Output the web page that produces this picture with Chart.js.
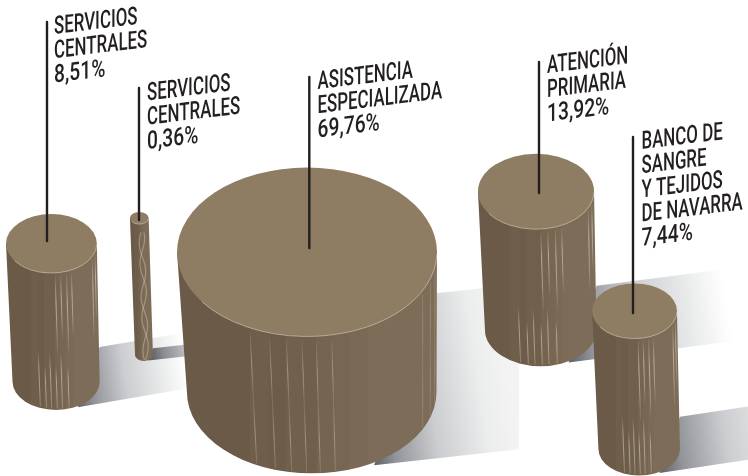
<!DOCTYPE html>
<html>
<head>
<meta charset="utf-8">
<style>html,body{margin:0;padding:0;background:#fff}canvas{display:block}</style>
<script src="https://cdn.jsdelivr.net/npm/chart.js@4"></script>
</head>
<body>
<canvas id="c" width="748" height="476"></canvas>
<script>
// ---- data ----
const categories = [
  ["SERVICIOS", "CENTRALES"],
  ["SERVICIOS", "CENTRALES"],
  ["ASISTENCIA", "ESPECIALIZADA"],
  ["ATENCIÓN", "PRIMARIA"],
  ["BANCO DE", "SANGRE", "Y TEJIDOS", "DE NAVARRA"]
];
const shares = [8.51, 0.36, 69.76, 13.92, 7.44];
const shareLabels = ["8,51%", "0,36%", "69,76%", "13,92%", "7,44%"];
// cylinder top centres on the hidden x / y axes
const centreX = [51.4, 139.3, 307, 536, 634.5];
const centreY = [243.5, 218, 252, 191.5, 311];
// leader lines on the hidden axes
const leaderX = [47, 139, 309.3, 539, 633];
const leaderTop = [22, 88, 77, 62, 137];
const leaderEnd = [241, 220, 248, 193, 313];
// label anchors on the hidden axes (first baseline)
const labelX = [54, 147, 317.5, 547, 641.5];
const labelY = [34, 100.5, 89, 73, 149];

// ---- style ----
const RADIUS_K = 15.56, ELL = 0.65, DEPTH = 137, DEPTH_R = 0.025, DRIFT = 4.7, TAPER = 0.96;
const shadowSlope = [0.17, 0.11, 0.11, 0.13, 0.15];
const shadowEnd = [190, 250, 519, 732, 815];
const TEXT = "#231f20";

function shadow(ctx, g, i) {
  const m = shadowSlope[i], xe = shadowEnd[i];
  const ux = g.bx + g.brx, uy = g.by - 1.22 * g.bry;
  const lx = g.bx + 0.5 * g.brx, ly = g.by + 0.9 * g.bry;
  ctx.save();
  ctx.globalCompositeOperation = "multiply";
  const gr = ctx.createLinearGradient(lx, ly, xe, ly - 0.15 * (xe - lx));
  gr.addColorStop(0, "#5f616a");
  gr.addColorStop(0.15, "#92949a");
  gr.addColorStop(0.45, "#cbcdd0");
  gr.addColorStop(0.8, "#eceded");
  gr.addColorStop(1, i === 2 ? "#f3f3f3" : "#ffffff");
  ctx.fillStyle = gr;
  ctx.beginPath();
  ctx.moveTo(ux, uy);
  ctx.lineTo(xe, uy - m * (xe - ux));
  ctx.lineTo(xe, ly - m * (xe - lx));
  ctx.lineTo(lx, ly);
  ctx.closePath();
  ctx.fill();
  ctx.restore();
}

const band = [-0.44, -0.3, -0.16, -0.04, 0.08, 0.2, 0.32, 0.47];
const bandCol = ["#6a5a47", "#6e5e4a", "#6c5c49", "#71604c", "#6f5f4b", "#75644f", "#776651", "#7a6954", "#7d6c57"];
const upperTier = [0.08, 0.2, 0.33, 0.44, 0.9, 0.96];
const lowerTier = [-0.36, -0.22, -0.1, 0.03, 0.15, 0.3];
const bigTier = [-0.44, -0.29, -0.16, -0.04, 0.07, 0.19, 0.89, 0.95, 0.985];

function cylinder(ctx, g, i) {
  const {x, y, rx, ry, bx, by, brx, bry} = g;
  ctx.save();
  // body
  ctx.beginPath();
  ctx.moveTo(x - rx, y);
  ctx.lineTo(bx - brx, by);
  ctx.ellipse(bx, by, brx, bry, 0, Math.PI, 0, true);
  ctx.lineTo(x + rx, y);
  ctx.closePath();
  const gr = ctx.createLinearGradient(x - rx, 0, x + rx, 0);
  let prev = 0;
  band.forEach((f, k) => {
    const p = (f + 1) / 2;
    gr.addColorStop(prev, bandCol[k]);
    gr.addColorStop(p, bandCol[k]);
    prev = p;
  });
  gr.addColorStop(prev, bandCol[8]);
  gr.addColorStop(1, bandCol[8]);
  ctx.fillStyle = gr;
  ctx.fill();
  ctx.clip();
  // thin light strands, fading along their length
  ctx.lineWidth = 0.8;
  const strand = (f, a, b, alphas) => {
    const x0 = x + f * rx, x1 = bx + f * brx;
    const yTop = y + ry * Math.sqrt(Math.max(0, 1 - f * f));
    const yBot = by + bry * Math.sqrt(Math.max(0, 1 - f * f));
    const ya = yTop + (yBot - yTop) * a, yb = yTop + (yBot - yTop) * b;
    const sg = ctx.createLinearGradient(0, ya, 0, yb);
    alphas.forEach((al, k) => sg.addColorStop(k / (alphas.length - 1), `rgba(214,207,195,${al})`));
    ctx.strokeStyle = sg;
    ctx.beginPath();
    ctx.moveTo(x0 + (x1 - x0) * a, ya);
    ctx.lineTo(x0 + (x1 - x0) * b, yb);
    ctx.stroke();
  };
  if (i === 2) {
    bigTier.forEach(f => strand(f, 0.03, 0.99, f > 0.8 ? [0.2, 0.35, 0.2, 0.35, 0.15] : [0.1, 0.6, 0.2, 0.6, 0.25]));
  } else if (i === 1) {
    ctx.lineWidth = 1.2;
    ctx.strokeStyle = "rgba(214,207,195,.42)";
    [0, 2.4].forEach(ph => {
      ctx.beginPath();
      for (let t = 0.06; t <= 1.02; t += 0.03) {
        const sx = x + (bx - x) * t + 0.22 * rx + 0.3 * rx * Math.sin(t * 16 + ph);
        const sy = y + ry + (by - y) * t;
        if (t === 0.06) ctx.moveTo(sx, sy); else ctx.lineTo(sx, sy);
      }
      ctx.stroke();
    });
  } else {
    upperTier.forEach((f, k) => strand(f, 0.02, k % 2 ? 0.5 : 0.62, [0.1, 0.85, 0.6, 0]));
    lowerTier.forEach((f, k) => strand(f, k % 2 ? 0.68 : 0.58, 0.99, [0, 0.75, 0.7, 0.4]));
  }
  ctx.restore();
  // top face
  ctx.fillStyle = "#8e7c63";
  ctx.beginPath();
  ctx.ellipse(x, y, rx, ry, 0, 0, Math.PI * 2);
  ctx.fill();
  ctx.strokeStyle = "rgba(222,214,200,.8)";
  ctx.lineWidth = 0.7;
  ctx.beginPath();
  ctx.ellipse(x, y, rx, ry, 0, 0.02, Math.PI * 0.8);
  ctx.stroke();
}

class CylinderController extends Chart.BubbleController {
  draw() {
    const ctx = this.chart.ctx;
    const yScale = this.chart.scales.y;
    const geo = this.getMeta().data.map(el => {
      const rx = el.options.radius;
      const bx = el.x + DRIFT;
      const by = yScale.getPixelForValue(yScale.getValueForPixel(el.y) + DEPTH + rx * DEPTH_R);
      return {x: el.x, y: el.y, rx, ry: rx * ELL, bx, by, brx: rx * TAPER, bry: rx * TAPER * ELL};
    });
    geo.forEach((g, i) => shadow(ctx, g, i));
    geo.forEach((g, i) => cylinder(ctx, g, i));
  }
}
CylinderController.id = "cylinder";
CylinderController.defaults = Chart.BubbleController.defaults;
CylinderController.overrides = Chart.BubbleController.overrides;
Chart.register(CylinderController);

const labelPlugin = {
  id: "shearedLabels",
  afterDatasetsDraw(chart) {
    const ctx = chart.ctx, xs = chart.scales.x, ys = chart.scales.y;
    categories.forEach((lines, i) => {
      const x = xs.getPixelForValue(labelX[i]);
      let y = ys.getPixelForValue(labelY[i]);
      const n = lines.length;
      [...lines, shareLabels[i]].forEach((t, k) => {
        const sx = k === n ? 0.77 : 0.675;
        ctx.save();
        ctx.transform(sx, -0.12 * sx, 0, 1, x, y);
        ctx.font = '500 25px Roboto, "Liberation Sans", sans-serif';
        ctx.fillStyle = TEXT;
        ctx.textBaseline = "alphabetic";
        ctx.textAlign = "left";
        ctx.fillText(t, 0, 0);
        ctx.restore();
        y += 24.2;
      });
    });
  }
};

const leaderSets = leaderX.map((lx, i) => ({
  type: "scatter",
  showLine: true,
  order: 1,
  clip: false,
  data: [{x: lx, y: leaderTop[i]}, {x: lx, y: leaderEnd[i]}],
  borderColor: TEXT,
  borderWidth: 2.4,
  pointRadius: 0,
  borderCapStyle: "round"
}));

new Chart(document.getElementById("c"), {
  data: {
    datasets: [{
      type: "cylinder",
      order: 2,
      clip: false,
      data: shares.map((s, i) => ({x: centreX[i], y: centreY[i], r: RADIUS_K * Math.sqrt(s)}))
    }, ...leaderSets]
  },
  options: {
    responsive: false,
    animation: false,
    layout: {padding: 0, autoPadding: false},
    plugins: {legend: {display: false}, tooltip: {enabled: false}},
    scales: {
      x: {type: "linear", min: 0, max: 748, display: false},
      y: {type: "linear", min: 0, max: 476, reverse: true, display: false}
    }
  },
  plugins: [labelPlugin]
});
</script>
</body>
</html>
